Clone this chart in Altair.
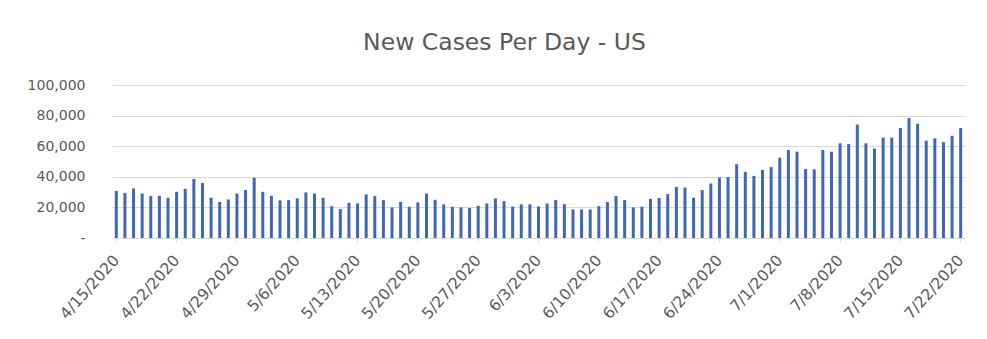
import altair as alt
import pandas as pd

start_date = "2020-04-15"
n_days = 99

new_cases = [
    30800, 29500, 32400, 29100, 27400, 27600, 26300, 30200, 32100, 38600,
    36000, 26300, 23600, 25200, 29100, 31300, 39300, 30200, 27600, 24600,
    24800, 25900, 29800, 29100, 26300, 20800, 18900, 23000, 22600, 28500,
    27400, 24800, 20000, 23600, 20400, 23300, 29100, 25000, 22000, 20400,
    20000, 19700, 21000, 22600, 25900, 24100, 20600, 22000, 22000, 20600,
    22600, 24800, 22100, 18700, 18700, 18700, 20800, 23500, 27400, 24800,
    20000, 20400, 25600, 26100, 28700, 33400, 33000, 26300, 31300, 35600,
    39500, 39900, 48200, 43200, 40600, 44500, 46300, 52500, 57500, 56400,
    45100, 44900, 57500, 56400, 61900, 61400, 74100, 61900, 58400, 65600,
    65600, 71900, 78400, 74700, 63600, 65100, 62700, 66800, 71900,
]

dates = pd.date_range(start_date, periods=n_days, freq="D")
date_labels = [f"{d.month}/{d.day}/{d.year}" for d in dates]
tick_labels = date_labels[::7]

df = pd.DataFrame({"date": date_labels, "cases": new_cases})

font = "DejaVu Sans"
text_color = "#595959"
grid_color = "#d9d9d9"

chart = (
    alt.Chart(df)
    .mark_bar(size=3, color="#3f68b0")
    .encode(
        x=alt.X(
            "date:N",
            sort=date_labels,
            title=None,
            scale=alt.Scale(paddingInner=0, paddingOuter=0),
            axis=alt.Axis(
                values=tick_labels,
                labelAngle=-48,
                labelAlign="right",
                labelBaseline="middle",
                labelPadding=15,
                labelFont=font,
                labelFontSize=15.5,
                labelColor=text_color,
                tickColor=grid_color,
                tickSize=4,
                domainColor=grid_color,
                grid=False,
            ),
        ),
        y=alt.Y(
            "cases:Q",
            title=None,
            scale=alt.Scale(domain=[0, 100000], nice=False),
            axis=alt.Axis(
                values=[0, 20000, 40000, 60000, 80000, 100000],
                labelExpr="datum.value == 0 ? '-' : format(datum.value, ',')",
                labelFont=font,
                labelFontSize=14,
                labelColor=text_color,
                labelPadding=27,
                ticks=False,
                domain=False,
                gridColor=grid_color,
                gridWidth=1,
            ),
        ),
    )
    .properties(
        width=853,
        height=153,
        title=alt.TitleParams(
            "New Cases Per Day - US",
            font=font,
            fontSize=23.5,
            fontWeight="normal",
            color=text_color,
            anchor="middle",
            baseline="alphabetic",
            offset=5,
            dx=-34,
        ),
        autosize=alt.AutoSizeParams(type="none"),
        padding={"left": 112, "top": 85, "right": 22, "bottom": 101},
    )
    .configure(background="white")
    .configure_view(stroke="transparent", strokeWidth=0)
)

chart.save("out.html", embed_options={"renderer": "svg", "actions": False})
